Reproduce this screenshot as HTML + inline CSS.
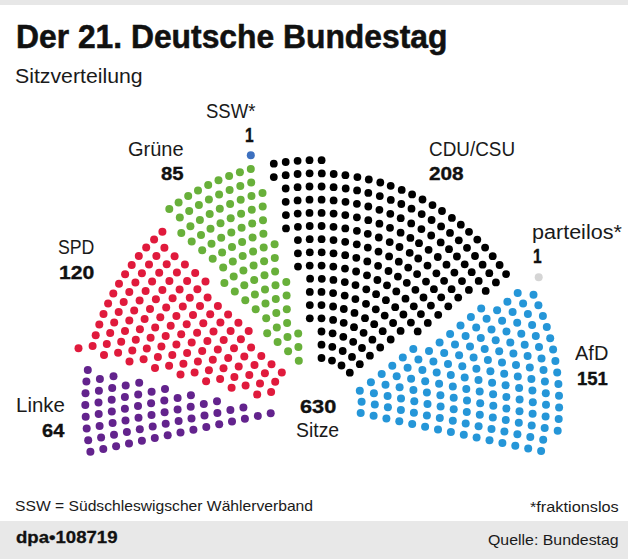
<!DOCTYPE html>
<html lang="de"><head><meta charset="utf-8">
<title>Der 21. Deutsche Bundestag</title>
<style>
html,body{margin:0;padding:0;background:#fff;}
body{width:628px;height:559px;position:relative;overflow:hidden;font-family:"Liberation Sans",Arial,sans-serif;color:#1a1a1a;}
.t{position:absolute;white-space:nowrap;line-height:1;transform-origin:0 0;}
.b{font-weight:bold;color:#111;}
#topbar{position:absolute;left:0;top:0;width:628px;height:5.3px;background:#e7e7e7;}
#footbar{position:absolute;left:0;top:521px;width:628px;height:38px;background:#e8e8e8;}
svg{position:absolute;left:0;top:0;}
</style></head><body>
<div id="topbar"></div>
<svg width="628" height="559" viewBox="0 0 628 559">
<g fill="#63238d"><circle cx="270.7" cy="413.2" r="4.0"/><circle cx="257.8" cy="416.0" r="4.0"/><circle cx="244.9" cy="418.8" r="4.0"/><circle cx="243.4" cy="407.4" r="4.0"/><circle cx="232.0" cy="421.5" r="4.0"/><circle cx="230.4" cy="410.1" r="4.0"/><circle cx="219.2" cy="424.3" r="4.0"/><circle cx="217.4" cy="412.9" r="4.0"/><circle cx="217.0" cy="401.3" r="4.0"/><circle cx="206.3" cy="427.0" r="4.0"/><circle cx="204.5" cy="415.6" r="4.0"/><circle cx="203.8" cy="404.1" r="4.0"/><circle cx="193.4" cy="429.8" r="4.0"/><circle cx="191.5" cy="418.4" r="4.0"/><circle cx="190.7" cy="406.8" r="4.0"/><circle cx="190.9" cy="395.2" r="4.0"/><circle cx="180.5" cy="432.5" r="4.0"/><circle cx="178.6" cy="421.1" r="4.0"/><circle cx="177.6" cy="409.5" r="4.0"/><circle cx="177.6" cy="397.9" r="4.0"/><circle cx="167.7" cy="435.3" r="4.0"/><circle cx="165.7" cy="423.8" r="4.0"/><circle cx="164.6" cy="412.3" r="4.0"/><circle cx="164.3" cy="400.6" r="4.0"/><circle cx="165.0" cy="389.0" r="4.0"/><circle cx="154.8" cy="438.0" r="4.0"/><circle cx="152.7" cy="426.6" r="4.0"/><circle cx="151.5" cy="415.0" r="4.0"/><circle cx="151.1" cy="403.3" r="4.0"/><circle cx="151.6" cy="391.7" r="4.0"/><circle cx="141.9" cy="440.8" r="4.0"/><circle cx="139.8" cy="429.3" r="4.0"/><circle cx="138.5" cy="417.7" r="4.0"/><circle cx="138.0" cy="406.0" r="4.0"/><circle cx="138.2" cy="394.4" r="4.0"/><circle cx="139.2" cy="382.7" r="4.0"/><circle cx="129.0" cy="443.5" r="4.0"/><circle cx="126.9" cy="432.0" r="4.0"/><circle cx="125.5" cy="420.4" r="4.0"/><circle cx="124.9" cy="408.7" r="4.0"/><circle cx="124.9" cy="397.0" r="4.0"/><circle cx="125.7" cy="385.4" r="4.0"/><circle cx="116.1" cy="446.3" r="4.0"/><circle cx="114.0" cy="434.8" r="4.0"/><circle cx="112.6" cy="423.1" r="4.0"/><circle cx="111.8" cy="411.4" r="4.0"/><circle cx="111.7" cy="399.7" r="4.0"/><circle cx="112.2" cy="388.0" r="4.0"/><circle cx="113.5" cy="376.3" r="4.0"/><circle cx="103.3" cy="449.1" r="4.0"/><circle cx="101.1" cy="437.5" r="4.0"/><circle cx="99.6" cy="425.9" r="4.0"/><circle cx="98.7" cy="414.1" r="4.0"/><circle cx="98.5" cy="402.4" r="4.0"/><circle cx="98.9" cy="390.7" r="4.0"/><circle cx="99.9" cy="378.9" r="4.0"/><circle cx="90.4" cy="451.8" r="4.0"/><circle cx="88.2" cy="440.2" r="4.0"/><circle cx="86.7" cy="428.6" r="4.0"/><circle cx="85.7" cy="416.8" r="4.0"/><circle cx="85.3" cy="405.1" r="4.0"/><circle cx="85.5" cy="393.3" r="4.0"/><circle cx="86.4" cy="381.6" r="4.0"/><circle cx="87.8" cy="369.9" r="4.0"/></g>
<g fill="#e01a3c"><circle cx="271.1" cy="392.1" r="4.0"/><circle cx="275.2" cy="381.7" r="4.0"/><circle cx="281.8" cy="372.5" r="4.0"/><circle cx="257.2" cy="394.4" r="4.0"/><circle cx="260.0" cy="383.5" r="4.0"/><circle cx="264.9" cy="373.3" r="4.0"/><circle cx="271.5" cy="364.2" r="4.0"/><circle cx="245.6" cy="385.6" r="4.0"/><circle cx="249.3" cy="374.9" r="4.0"/><circle cx="254.5" cy="364.9" r="4.0"/><circle cx="261.3" cy="355.9" r="4.0"/><circle cx="231.6" cy="387.8" r="4.0"/><circle cx="234.4" cy="376.9" r="4.0"/><circle cx="238.7" cy="366.4" r="4.0"/><circle cx="244.3" cy="356.6" r="4.0"/><circle cx="251.1" cy="347.6" r="4.0"/><circle cx="220.1" cy="379.0" r="4.0"/><circle cx="223.5" cy="368.2" r="4.0"/><circle cx="228.2" cy="357.9" r="4.0"/><circle cx="234.0" cy="348.2" r="4.0"/><circle cx="240.9" cy="339.3" r="4.0"/><circle cx="248.7" cy="331.1" r="4.0"/><circle cx="206.1" cy="381.2" r="4.0"/><circle cx="208.9" cy="370.3" r="4.0"/><circle cx="212.8" cy="359.7" r="4.0"/><circle cx="217.8" cy="349.5" r="4.0"/><circle cx="223.7" cy="339.9" r="4.0"/><circle cx="230.6" cy="330.9" r="4.0"/><circle cx="238.4" cy="322.7" r="4.0"/><circle cx="194.6" cy="372.4" r="4.0"/><circle cx="197.9" cy="361.6" r="4.0"/><circle cx="202.2" cy="351.1" r="4.0"/><circle cx="207.4" cy="341.1" r="4.0"/><circle cx="213.5" cy="331.6" r="4.0"/><circle cx="220.4" cy="322.6" r="4.0"/><circle cx="228.1" cy="314.4" r="4.0"/><circle cx="180.5" cy="374.6" r="4.0"/><circle cx="183.4" cy="363.7" r="4.0"/><circle cx="187.1" cy="353.0" r="4.0"/><circle cx="191.7" cy="342.6" r="4.0"/><circle cx="197.1" cy="332.7" r="4.0"/><circle cx="203.3" cy="323.2" r="4.0"/><circle cx="210.2" cy="314.3" r="4.0"/><circle cx="217.9" cy="306.0" r="4.0"/><circle cx="169.1" cy="365.8" r="4.0"/><circle cx="172.3" cy="355.0" r="4.0"/><circle cx="176.4" cy="344.4" r="4.0"/><circle cx="181.2" cy="334.2" r="4.0"/><circle cx="186.7" cy="324.3" r="4.0"/><circle cx="193.0" cy="314.9" r="4.0"/><circle cx="200.0" cy="306.0" r="4.0"/><circle cx="207.6" cy="297.6" r="4.0"/><circle cx="155.0" cy="368.1" r="4.0"/><circle cx="157.9" cy="357.1" r="4.0"/><circle cx="161.4" cy="346.4" r="4.0"/><circle cx="165.7" cy="335.9" r="4.0"/><circle cx="170.7" cy="325.7" r="4.0"/><circle cx="176.4" cy="316.0" r="4.0"/><circle cx="182.8" cy="306.6" r="4.0"/><circle cx="189.8" cy="297.7" r="4.0"/><circle cx="197.4" cy="289.3" r="4.0"/><circle cx="205.5" cy="281.4" r="4.0"/><circle cx="143.6" cy="359.3" r="4.0"/><circle cx="146.8" cy="348.4" r="4.0"/><circle cx="150.6" cy="337.8" r="4.0"/><circle cx="155.2" cy="327.4" r="4.0"/><circle cx="160.3" cy="317.3" r="4.0"/><circle cx="166.2" cy="307.6" r="4.0"/><circle cx="172.6" cy="298.3" r="4.0"/><circle cx="179.6" cy="289.4" r="4.0"/><circle cx="187.1" cy="280.9" r="4.0"/><circle cx="195.2" cy="273.0" r="4.0"/><circle cx="129.5" cy="361.5" r="4.0"/><circle cx="132.3" cy="350.5" r="4.0"/><circle cx="135.8" cy="339.7" r="4.0"/><circle cx="139.9" cy="329.2" r="4.0"/><circle cx="144.6" cy="318.9" r="4.0"/><circle cx="150.0" cy="308.9" r="4.0"/><circle cx="155.9" cy="299.2" r="4.0"/><circle cx="162.4" cy="289.9" r="4.0"/><circle cx="169.4" cy="281.0" r="4.0"/><circle cx="176.9" cy="272.6" r="4.0"/><circle cx="184.9" cy="264.6" r="4.0"/><circle cx="118.1" cy="352.7" r="4.0"/><circle cx="121.2" cy="341.8" r="4.0"/><circle cx="125.0" cy="331.1" r="4.0"/><circle cx="129.3" cy="320.6" r="4.0"/><circle cx="134.2" cy="310.4" r="4.0"/><circle cx="139.6" cy="300.5" r="4.0"/><circle cx="145.6" cy="290.9" r="4.0"/><circle cx="152.1" cy="281.6" r="4.0"/><circle cx="159.2" cy="272.7" r="4.0"/><circle cx="166.7" cy="264.2" r="4.0"/><circle cx="174.6" cy="256.2" r="4.0"/><circle cx="104.0" cy="354.9" r="4.0"/><circle cx="106.8" cy="343.9" r="4.0"/><circle cx="110.2" cy="333.1" r="4.0"/><circle cx="114.2" cy="322.5" r="4.0"/><circle cx="118.7" cy="312.1" r="4.0"/><circle cx="123.7" cy="302.0" r="4.0"/><circle cx="129.3" cy="292.1" r="4.0"/><circle cx="135.4" cy="282.5" r="4.0"/><circle cx="141.9" cy="273.3" r="4.0"/><circle cx="149.0" cy="264.4" r="4.0"/><circle cx="156.4" cy="255.9" r="4.0"/><circle cx="164.4" cy="247.8" r="4.0"/><circle cx="92.6" cy="346.1" r="4.0"/><circle cx="95.7" cy="335.2" r="4.0"/><circle cx="99.3" cy="324.5" r="4.0"/><circle cx="103.5" cy="313.9" r="4.0"/><circle cx="108.1" cy="303.6" r="4.0"/><circle cx="113.3" cy="293.5" r="4.0"/><circle cx="119.0" cy="283.7" r="4.0"/><circle cx="125.1" cy="274.2" r="4.0"/><circle cx="131.7" cy="265.0" r="4.0"/><circle cx="138.8" cy="256.1" r="4.0"/><circle cx="146.2" cy="247.6" r="4.0"/><circle cx="154.1" cy="239.4" r="4.0"/><circle cx="162.4" cy="231.7" r="4.0"/><circle cx="78.5" cy="348.3" r="4.0"/></g>
<g fill="#68b03a"><circle cx="298.8" cy="360.8" r="4.0"/><circle cx="298.4" cy="347.0" r="4.0"/><circle cx="288.1" cy="351.3" r="4.0"/><circle cx="298.2" cy="333.4" r="4.0"/><circle cx="287.5" cy="337.0" r="4.0"/><circle cx="277.6" cy="342.1" r="4.0"/><circle cx="287.1" cy="323.0" r="4.0"/><circle cx="276.8" cy="327.4" r="4.0"/><circle cx="267.2" cy="333.2" r="4.0"/><circle cx="286.8" cy="309.2" r="4.0"/><circle cx="276.3" cy="313.1" r="4.0"/><circle cx="266.2" cy="318.2" r="4.0"/><circle cx="286.6" cy="295.6" r="4.0"/><circle cx="275.8" cy="299.1" r="4.0"/><circle cx="265.5" cy="303.6" r="4.0"/><circle cx="255.7" cy="309.2" r="4.0"/><circle cx="286.3" cy="282.1" r="4.0"/><circle cx="275.5" cy="285.2" r="4.0"/><circle cx="265.0" cy="289.4" r="4.0"/><circle cx="254.9" cy="294.4" r="4.0"/><circle cx="245.3" cy="300.3" r="4.0"/><circle cx="275.1" cy="271.5" r="4.0"/><circle cx="264.5" cy="275.3" r="4.0"/><circle cx="254.2" cy="279.9" r="4.0"/><circle cx="244.3" cy="285.3" r="4.0"/><circle cx="234.8" cy="291.5" r="4.0"/><circle cx="274.8" cy="257.9" r="4.0"/><circle cx="264.1" cy="261.3" r="4.0"/><circle cx="253.6" cy="265.6" r="4.0"/><circle cx="243.4" cy="270.6" r="4.0"/><circle cx="233.7" cy="276.4" r="4.0"/><circle cx="224.4" cy="282.9" r="4.0"/><circle cx="274.6" cy="244.3" r="4.0"/><circle cx="263.7" cy="247.5" r="4.0"/><circle cx="253.1" cy="251.5" r="4.0"/><circle cx="242.7" cy="256.1" r="4.0"/><circle cx="232.8" cy="261.5" r="4.0"/><circle cx="223.2" cy="267.6" r="4.0"/><circle cx="263.4" cy="233.8" r="4.0"/><circle cx="252.6" cy="237.5" r="4.0"/><circle cx="242.1" cy="241.9" r="4.0"/><circle cx="232.0" cy="246.9" r="4.0"/><circle cx="222.1" cy="252.5" r="4.0"/><circle cx="212.7" cy="258.8" r="4.0"/><circle cx="263.0" cy="220.2" r="4.0"/><circle cx="252.2" cy="223.6" r="4.0"/><circle cx="241.6" cy="227.7" r="4.0"/><circle cx="231.3" cy="232.4" r="4.0"/><circle cx="221.2" cy="237.8" r="4.0"/><circle cx="211.5" cy="243.7" r="4.0"/><circle cx="202.2" cy="250.2" r="4.0"/><circle cx="262.7" cy="206.6" r="4.0"/><circle cx="251.8" cy="209.8" r="4.0"/><circle cx="241.1" cy="213.7" r="4.0"/><circle cx="230.7" cy="218.2" r="4.0"/><circle cx="220.5" cy="223.2" r="4.0"/><circle cx="210.5" cy="228.8" r="4.0"/><circle cx="201.0" cy="234.9" r="4.0"/><circle cx="191.7" cy="241.6" r="4.0"/><circle cx="262.5" cy="193.1" r="4.0"/><circle cx="251.5" cy="196.1" r="4.0"/><circle cx="240.7" cy="199.8" r="4.0"/><circle cx="230.1" cy="204.0" r="4.0"/><circle cx="219.8" cy="208.8" r="4.0"/><circle cx="209.7" cy="214.1" r="4.0"/><circle cx="199.9" cy="219.9" r="4.0"/><circle cx="190.4" cy="226.2" r="4.0"/><circle cx="181.3" cy="233.0" r="4.0"/><circle cx="251.2" cy="182.5" r="4.0"/><circle cx="240.3" cy="185.9" r="4.0"/><circle cx="229.6" cy="189.9" r="4.0"/><circle cx="219.1" cy="194.5" r="4.0"/><circle cx="208.9" cy="199.5" r="4.0"/><circle cx="198.9" cy="205.0" r="4.0"/><circle cx="189.2" cy="211.1" r="4.0"/><circle cx="179.8" cy="217.6" r="4.0"/><circle cx="250.8" cy="168.9" r="4.0"/><circle cx="239.9" cy="172.2" r="4.0"/><circle cx="229.1" cy="176.0" r="4.0"/><circle cx="218.5" cy="180.3" r="4.0"/><circle cx="208.2" cy="185.1" r="4.0"/><circle cx="198.0" cy="190.4" r="4.0"/><circle cx="188.2" cy="196.1" r="4.0"/><circle cx="178.6" cy="202.4" r="4.0"/><circle cx="169.3" cy="209.0" r="4.0"/></g>
<g fill="#2596d8"><circle cx="360.7" cy="413.1" r="4.0"/><circle cx="361.6" cy="401.8" r="4.0"/><circle cx="359.8" cy="390.7" r="4.0"/><circle cx="373.6" cy="415.8" r="4.0"/><circle cx="374.8" cy="404.5" r="4.0"/><circle cx="373.9" cy="393.2" r="4.0"/><circle cx="370.9" cy="382.3" r="4.0"/><circle cx="386.4" cy="418.5" r="4.0"/><circle cx="387.9" cy="407.3" r="4.0"/><circle cx="387.6" cy="395.9" r="4.0"/><circle cx="385.5" cy="384.7" r="4.0"/><circle cx="381.7" cy="374.0" r="4.0"/><circle cx="399.3" cy="421.3" r="4.0"/><circle cx="400.9" cy="410.0" r="4.0"/><circle cx="401.0" cy="398.6" r="4.0"/><circle cx="399.6" cy="387.2" r="4.0"/><circle cx="396.7" cy="376.2" r="4.0"/><circle cx="392.3" cy="365.7" r="4.0"/><circle cx="412.2" cy="424.0" r="4.0"/><circle cx="413.9" cy="412.7" r="4.0"/><circle cx="414.3" cy="401.2" r="4.0"/><circle cx="413.4" cy="389.9" r="4.0"/><circle cx="411.1" cy="378.7" r="4.0"/><circle cx="407.6" cy="367.8" r="4.0"/><circle cx="402.8" cy="357.4" r="4.0"/><circle cx="425.1" cy="426.7" r="4.0"/><circle cx="426.9" cy="415.4" r="4.0"/><circle cx="427.5" cy="403.9" r="4.0"/><circle cx="426.9" cy="392.5" r="4.0"/><circle cx="425.2" cy="381.2" r="4.0"/><circle cx="422.4" cy="370.1" r="4.0"/><circle cx="418.4" cy="359.4" r="4.0"/><circle cx="413.3" cy="349.1" r="4.0"/><circle cx="438.0" cy="429.4" r="4.0"/><circle cx="439.8" cy="418.1" r="4.0"/><circle cx="440.6" cy="406.6" r="4.0"/><circle cx="440.4" cy="395.2" r="4.0"/><circle cx="439.1" cy="383.8" r="4.0"/><circle cx="436.7" cy="372.5" r="4.0"/><circle cx="433.4" cy="361.6" r="4.0"/><circle cx="429.0" cy="350.9" r="4.0"/><circle cx="450.9" cy="432.1" r="4.0"/><circle cx="452.8" cy="420.8" r="4.0"/><circle cx="453.7" cy="409.3" r="4.0"/><circle cx="453.7" cy="397.8" r="4.0"/><circle cx="452.8" cy="386.4" r="4.0"/><circle cx="450.8" cy="375.0" r="4.0"/><circle cx="448.0" cy="363.9" r="4.0"/><circle cx="444.2" cy="353.0" r="4.0"/><circle cx="439.6" cy="342.5" r="4.0"/><circle cx="463.8" cy="434.8" r="4.0"/><circle cx="465.7" cy="423.5" r="4.0"/><circle cx="466.8" cy="412.0" r="4.0"/><circle cx="467.0" cy="400.5" r="4.0"/><circle cx="466.3" cy="389.0" r="4.0"/><circle cx="464.7" cy="377.6" r="4.0"/><circle cx="462.3" cy="366.3" r="4.0"/><circle cx="459.1" cy="355.3" r="4.0"/><circle cx="455.0" cy="344.5" r="4.0"/><circle cx="450.1" cy="334.1" r="4.0"/><circle cx="476.6" cy="437.5" r="4.0"/><circle cx="478.6" cy="426.2" r="4.0"/><circle cx="479.8" cy="414.7" r="4.0"/><circle cx="480.2" cy="403.2" r="4.0"/><circle cx="479.7" cy="391.6" r="4.0"/><circle cx="478.5" cy="380.1" r="4.0"/><circle cx="476.4" cy="368.8" r="4.0"/><circle cx="473.6" cy="357.6" r="4.0"/><circle cx="470.0" cy="346.6" r="4.0"/><circle cx="465.6" cy="336.0" r="4.0"/><circle cx="460.5" cy="325.6" r="4.0"/><circle cx="489.5" cy="440.3" r="4.0"/><circle cx="491.5" cy="428.9" r="4.0"/><circle cx="492.8" cy="417.4" r="4.0"/><circle cx="493.3" cy="405.8" r="4.0"/><circle cx="493.1" cy="394.3" r="4.0"/><circle cx="492.1" cy="382.7" r="4.0"/><circle cx="490.4" cy="371.3" r="4.0"/><circle cx="487.9" cy="360.0" r="4.0"/><circle cx="484.7" cy="348.9" r="4.0"/><circle cx="480.8" cy="338.0" r="4.0"/><circle cx="476.2" cy="327.4" r="4.0"/><circle cx="470.9" cy="317.1" r="4.0"/><circle cx="502.4" cy="443.0" r="4.0"/><circle cx="504.4" cy="431.6" r="4.0"/><circle cx="505.8" cy="420.1" r="4.0"/><circle cx="506.4" cy="408.5" r="4.0"/><circle cx="506.4" cy="396.9" r="4.0"/><circle cx="505.6" cy="385.3" r="4.0"/><circle cx="504.2" cy="373.8" r="4.0"/><circle cx="502.0" cy="362.5" r="4.0"/><circle cx="499.2" cy="351.2" r="4.0"/><circle cx="495.7" cy="340.2" r="4.0"/><circle cx="491.5" cy="329.4" r="4.0"/><circle cx="486.6" cy="318.8" r="4.0"/><circle cx="481.2" cy="308.6" r="4.0"/><circle cx="515.3" cy="445.7" r="4.0"/><circle cx="517.4" cy="434.3" r="4.0"/><circle cx="518.8" cy="422.7" r="4.0"/><circle cx="519.5" cy="411.2" r="4.0"/><circle cx="519.6" cy="399.5" r="4.0"/><circle cx="519.1" cy="387.9" r="4.0"/><circle cx="517.8" cy="376.4" r="4.0"/><circle cx="516.0" cy="364.9" r="4.0"/><circle cx="513.4" cy="353.6" r="4.0"/><circle cx="510.3" cy="342.4" r="4.0"/><circle cx="506.5" cy="331.5" r="4.0"/><circle cx="502.1" cy="320.7" r="4.0"/><circle cx="497.1" cy="310.3" r="4.0"/><circle cx="528.2" cy="448.4" r="4.0"/><circle cx="530.3" cy="437.0" r="4.0"/><circle cx="531.7" cy="425.4" r="4.0"/><circle cx="532.6" cy="413.8" r="4.0"/><circle cx="532.8" cy="402.2" r="4.0"/><circle cx="532.4" cy="390.6" r="4.0"/><circle cx="531.4" cy="379.0" r="4.0"/><circle cx="529.8" cy="367.5" r="4.0"/><circle cx="527.6" cy="356.0" r="4.0"/><circle cx="524.7" cy="344.8" r="4.0"/><circle cx="521.3" cy="333.7" r="4.0"/><circle cx="517.2" cy="322.8" r="4.0"/><circle cx="512.6" cy="312.1" r="4.0"/><circle cx="507.4" cy="301.7" r="4.0"/><circle cx="541.1" cy="451.1" r="4.0"/><circle cx="543.2" cy="439.7" r="4.0"/><circle cx="544.7" cy="428.1" r="4.0"/><circle cx="545.6" cy="416.5" r="4.0"/><circle cx="546.0" cy="404.8" r="4.0"/><circle cx="545.8" cy="393.2" r="4.0"/><circle cx="544.9" cy="381.6" r="4.0"/><circle cx="543.5" cy="370.0" r="4.0"/><circle cx="541.5" cy="358.5" r="4.0"/><circle cx="539.0" cy="347.1" r="4.0"/><circle cx="535.8" cy="335.9" r="4.0"/><circle cx="532.1" cy="324.9" r="4.0"/><circle cx="527.9" cy="314.0" r="4.0"/><circle cx="523.1" cy="303.4" r="4.0"/><circle cx="517.7" cy="293.0" r="4.0"/><circle cx="557.7" cy="430.8" r="4.0"/><circle cx="558.7" cy="419.1" r="4.0"/><circle cx="559.1" cy="407.5" r="4.0"/><circle cx="559.0" cy="395.8" r="4.0"/><circle cx="558.4" cy="384.1" r="4.0"/><circle cx="557.2" cy="372.5" r="4.0"/><circle cx="555.4" cy="361.0" r="4.0"/><circle cx="553.1" cy="349.5" r="4.0"/><circle cx="550.2" cy="338.2" r="4.0"/><circle cx="546.8" cy="327.1" r="4.0"/><circle cx="542.9" cy="316.1" r="4.0"/><circle cx="538.4" cy="305.3" r="4.0"/><circle cx="533.5" cy="294.7" r="4.0"/></g>
<g fill="#000000"><circle cx="321.5" cy="358.0" r="3.9"/><circle cx="332.0" cy="360.6" r="3.9"/><circle cx="341.5" cy="365.5" r="3.9"/><circle cx="349.8" cy="372.7" r="3.9"/><circle cx="321.5" cy="344.7" r="3.9"/><circle cx="332.3" cy="346.8" r="3.9"/><circle cx="342.7" cy="351.0" r="3.9"/><circle cx="352.0" cy="356.9" r="3.9"/><circle cx="359.8" cy="364.2" r="3.9"/><circle cx="321.5" cy="331.5" r="3.9"/><circle cx="332.6" cy="333.3" r="3.9"/><circle cx="343.3" cy="336.8" r="3.9"/><circle cx="353.2" cy="341.8" r="3.9"/><circle cx="362.0" cy="348.0" r="3.9"/><circle cx="369.9" cy="355.7" r="3.9"/><circle cx="309.8" cy="318.3" r="3.9"/><circle cx="321.5" cy="318.3" r="3.9"/><circle cx="333.1" cy="319.9" r="3.9"/><circle cx="343.7" cy="322.8" r="3.9"/><circle cx="354.0" cy="327.2" r="3.9"/><circle cx="363.6" cy="332.8" r="3.9"/><circle cx="372.4" cy="339.7" r="3.9"/><circle cx="380.2" cy="347.5" r="3.9"/><circle cx="309.8" cy="305.1" r="3.9"/><circle cx="321.5" cy="305.1" r="3.9"/><circle cx="333.1" cy="306.5" r="3.9"/><circle cx="343.8" cy="309.0" r="3.9"/><circle cx="354.5" cy="312.9" r="3.9"/><circle cx="365.0" cy="318.2" r="3.9"/><circle cx="374.2" cy="324.2" r="3.9"/><circle cx="382.7" cy="331.2" r="3.9"/><circle cx="390.7" cy="339.5" r="3.9"/><circle cx="309.8" cy="291.9" r="3.9"/><circle cx="321.5" cy="291.9" r="3.9"/><circle cx="333.1" cy="293.1" r="3.9"/><circle cx="344.7" cy="295.6" r="3.9"/><circle cx="355.4" cy="299.1" r="3.9"/><circle cx="366.0" cy="303.8" r="3.9"/><circle cx="375.8" cy="309.3" r="3.9"/><circle cx="384.7" cy="315.6" r="3.9"/><circle cx="393.1" cy="323.0" r="3.9"/><circle cx="400.6" cy="330.9" r="3.9"/><circle cx="310.1" cy="278.7" r="3.9"/><circle cx="321.8" cy="278.8" r="3.9"/><circle cx="333.4" cy="279.9" r="3.9"/><circle cx="344.8" cy="282.1" r="3.9"/><circle cx="355.5" cy="285.1" r="3.9"/><circle cx="366.3" cy="289.3" r="3.9"/><circle cx="376.1" cy="294.2" r="3.9"/><circle cx="385.9" cy="300.2" r="3.9"/><circle cx="395.2" cy="307.2" r="3.9"/><circle cx="403.4" cy="314.5" r="3.9"/><circle cx="410.9" cy="322.6" r="3.9"/><circle cx="417.7" cy="331.4" r="3.9"/><circle cx="298.0" cy="266.6" r="3.9"/><circle cx="309.7" cy="265.6" r="3.9"/><circle cx="321.6" cy="265.6" r="3.9"/><circle cx="333.3" cy="266.6" r="3.9"/><circle cx="345.0" cy="268.6" r="3.9"/><circle cx="356.1" cy="271.5" r="3.9"/><circle cx="367.0" cy="275.3" r="3.9"/><circle cx="377.4" cy="280.0" r="3.9"/><circle cx="387.0" cy="285.3" r="3.9"/><circle cx="396.3" cy="291.4" r="3.9"/><circle cx="405.5" cy="298.7" r="3.9"/><circle cx="413.8" cy="306.3" r="3.9"/><circle cx="420.9" cy="314.1" r="3.9"/><circle cx="427.8" cy="322.9" r="3.9"/><circle cx="297.9" cy="253.3" r="3.9"/><circle cx="309.8" cy="252.4" r="3.9"/><circle cx="321.7" cy="252.4" r="3.9"/><circle cx="333.5" cy="253.3" r="3.9"/><circle cx="345.2" cy="255.2" r="3.9"/><circle cx="356.3" cy="257.8" r="3.9"/><circle cx="367.3" cy="261.4" r="3.9"/><circle cx="378.1" cy="265.8" r="3.9"/><circle cx="388.5" cy="271.0" r="3.9"/><circle cx="397.9" cy="276.6" r="3.9"/><circle cx="406.8" cy="282.8" r="3.9"/><circle cx="415.4" cy="289.8" r="3.9"/><circle cx="423.5" cy="297.5" r="3.9"/><circle cx="430.9" cy="305.6" r="3.9"/><circle cx="438.2" cy="314.8" r="3.9"/><circle cx="297.9" cy="240.1" r="3.9"/><circle cx="309.7" cy="239.2" r="3.9"/><circle cx="321.6" cy="239.2" r="3.9"/><circle cx="333.5" cy="240.1" r="3.9"/><circle cx="345.2" cy="241.8" r="3.9"/><circle cx="356.8" cy="244.3" r="3.9"/><circle cx="367.8" cy="247.6" r="3.9"/><circle cx="378.5" cy="251.6" r="3.9"/><circle cx="389.1" cy="256.4" r="3.9"/><circle cx="398.8" cy="261.7" r="3.9"/><circle cx="408.2" cy="267.6" r="3.9"/><circle cx="417.1" cy="274.1" r="3.9"/><circle cx="426.0" cy="281.6" r="3.9"/><circle cx="433.9" cy="289.2" r="3.9"/><circle cx="441.2" cy="297.3" r="3.9"/><circle cx="448.3" cy="306.3" r="3.9"/><circle cx="286.0" cy="228.4" r="3.9"/><circle cx="297.9" cy="226.8" r="3.9"/><circle cx="309.7" cy="226.0" r="3.9"/><circle cx="321.6" cy="226.0" r="3.9"/><circle cx="333.5" cy="226.8" r="3.9"/><circle cx="345.3" cy="228.4" r="3.9"/><circle cx="356.9" cy="230.8" r="3.9"/><circle cx="367.8" cy="233.8" r="3.9"/><circle cx="378.8" cy="237.5" r="3.9"/><circle cx="389.7" cy="242.1" r="3.9"/><circle cx="399.5" cy="247.0" r="3.9"/><circle cx="409.7" cy="252.9" r="3.9"/><circle cx="418.2" cy="258.5" r="3.9"/><circle cx="427.5" cy="265.6" r="3.9"/><circle cx="436.4" cy="273.3" r="3.9"/><circle cx="444.1" cy="280.8" r="3.9"/><circle cx="451.6" cy="289.2" r="3.9"/><circle cx="458.2" cy="297.6" r="3.9"/><circle cx="285.9" cy="215.1" r="3.9"/><circle cx="297.7" cy="213.6" r="3.9"/><circle cx="309.5" cy="212.9" r="3.9"/><circle cx="321.6" cy="212.9" r="3.9"/><circle cx="333.6" cy="213.6" r="3.9"/><circle cx="345.3" cy="215.1" r="3.9"/><circle cx="356.9" cy="217.3" r="3.9"/><circle cx="368.3" cy="220.2" r="3.9"/><circle cx="379.4" cy="223.7" r="3.9"/><circle cx="390.0" cy="227.8" r="3.9"/><circle cx="400.6" cy="232.7" r="3.9"/><circle cx="410.4" cy="237.9" r="3.9"/><circle cx="419.0" cy="243.2" r="3.9"/><circle cx="428.6" cy="249.8" r="3.9"/><circle cx="437.8" cy="257.0" r="3.9"/><circle cx="446.5" cy="264.7" r="3.9"/><circle cx="454.4" cy="272.6" r="3.9"/><circle cx="462.0" cy="281.1" r="3.9"/><circle cx="468.9" cy="289.9" r="3.9"/><circle cx="285.7" cy="201.8" r="3.9"/><circle cx="297.6" cy="200.4" r="3.9"/><circle cx="309.5" cy="199.7" r="3.9"/><circle cx="321.6" cy="199.7" r="3.9"/><circle cx="333.6" cy="200.4" r="3.9"/><circle cx="345.5" cy="201.8" r="3.9"/><circle cx="356.9" cy="203.8" r="3.9"/><circle cx="368.3" cy="206.5" r="3.9"/><circle cx="379.4" cy="209.8" r="3.9"/><circle cx="390.3" cy="213.8" r="3.9"/><circle cx="400.7" cy="218.2" r="3.9"/><circle cx="411.2" cy="223.4" r="3.9"/><circle cx="421.4" cy="229.1" r="3.9"/><circle cx="431.2" cy="235.5" r="3.9"/><circle cx="440.7" cy="242.4" r="3.9"/><circle cx="449.0" cy="249.2" r="3.9"/><circle cx="456.9" cy="256.5" r="3.9"/><circle cx="464.7" cy="264.3" r="3.9"/><circle cx="471.7" cy="272.2" r="3.9"/><circle cx="478.7" cy="280.9" r="3.9"/><circle cx="485.7" cy="290.9" r="3.9"/><circle cx="285.7" cy="188.5" r="3.9"/><circle cx="297.6" cy="187.2" r="3.9"/><circle cx="309.5" cy="186.5" r="3.9"/><circle cx="321.6" cy="186.5" r="3.9"/><circle cx="333.6" cy="187.2" r="3.9"/><circle cx="345.7" cy="188.5" r="3.9"/><circle cx="357.1" cy="190.4" r="3.9"/><circle cx="368.3" cy="192.9" r="3.9"/><circle cx="379.8" cy="196.1" r="3.9"/><circle cx="390.8" cy="199.9" r="3.9"/><circle cx="401.3" cy="204.0" r="3.9"/><circle cx="411.5" cy="208.7" r="3.9"/><circle cx="421.7" cy="214.1" r="3.9"/><circle cx="431.6" cy="220.0" r="3.9"/><circle cx="441.1" cy="226.4" r="3.9"/><circle cx="450.0" cy="232.9" r="3.9"/><circle cx="458.8" cy="240.3" r="3.9"/><circle cx="467.0" cy="247.8" r="3.9"/><circle cx="475.0" cy="256.0" r="3.9"/><circle cx="482.6" cy="264.7" r="3.9"/><circle cx="489.3" cy="273.2" r="3.9"/><circle cx="495.9" cy="282.4" r="3.9"/><circle cx="273.8" cy="177.1" r="3.9"/><circle cx="285.7" cy="175.2" r="3.9"/><circle cx="297.6" cy="174.0" r="3.9"/><circle cx="309.6" cy="173.3" r="3.9"/><circle cx="321.8" cy="173.4" r="3.9"/><circle cx="333.7" cy="174.0" r="3.9"/><circle cx="345.4" cy="175.2" r="3.9"/><circle cx="357.4" cy="177.1" r="3.9"/><circle cx="368.8" cy="179.5" r="3.9"/><circle cx="380.3" cy="182.5" r="3.9"/><circle cx="390.7" cy="185.8" r="3.9"/><circle cx="401.7" cy="189.9" r="3.9"/><circle cx="412.1" cy="194.4" r="3.9"/><circle cx="422.5" cy="199.5" r="3.9"/><circle cx="432.5" cy="205.1" r="3.9"/><circle cx="442.0" cy="211.0" r="3.9"/><circle cx="451.9" cy="217.9" r="3.9"/><circle cx="460.8" cy="224.7" r="3.9"/><circle cx="469.0" cy="231.8" r="3.9"/><circle cx="477.3" cy="239.6" r="3.9"/><circle cx="485.1" cy="247.6" r="3.9"/><circle cx="492.7" cy="256.2" r="3.9"/><circle cx="499.6" cy="265.0" r="3.9"/><circle cx="506.1" cy="274.1" r="3.9"/><circle cx="273.8" cy="163.7" r="3.9"/><circle cx="285.7" cy="162.0" r="3.9"/><circle cx="297.6" cy="160.8" r="3.9"/><circle cx="309.5" cy="160.2" r="3.9"/><circle cx="321.6" cy="160.2" r="3.9"/></g>
<g fill="#3d70bf"><circle cx="250.8" cy="155.3" r="4.0"/></g>
<g fill="#d5d5d5"><circle cx="538.7" cy="277.2" r="4.0"/></g>
</svg>
<div class="t b" id="title" style="left:15.80px;top:20.17px;font-size:33.00px;transform:scaleX(0.9640);-webkit-text-stroke:0.55px currentColor;">Der 21. Deutsche Bundestag</div>
<div class="t" id="sub" style="left:15.00px;top:66.25px;font-size:20.50px;transform:scaleX(1.0377);">Sitzverteilung</div>
<div class="t" id="l_ssw" style="left:206.00px;top:101.99px;font-size:19.50px;transform:scaleX(0.9492);">SSW*</div>
<div class="t b" id="n_ssw" style="left:245.05px;top:126.19px;font-size:19.50px;transform:scaleX(0.8000);-webkit-text-stroke:0.35px currentColor;">1</div>
<div class="t" id="l_gru" style="left:128.00px;top:139.69px;font-size:19.50px;transform:scaleX(1.0266);">Grüne</div>
<div class="t b" id="n_gru" style="left:160.50px;top:164.42px;font-size:19.00px;transform:scaleX(1.0680);-webkit-text-stroke:0.35px currentColor;">85</div>
<div class="t" id="l_spd" style="left:57.50px;top:238.39px;font-size:19.50px;transform:scaleX(0.9080);">SPD</div>
<div class="t b" id="n_spd" style="left:58.50px;top:263.02px;font-size:19.00px;transform:scaleX(1.1144);-webkit-text-stroke:0.35px currentColor;">120</div>
<div class="t" id="l_lin" style="left:16.00px;top:395.69px;font-size:19.50px;transform:scaleX(1.0490);">Linke</div>
<div class="t b" id="n_lin" style="left:41.50px;top:420.52px;font-size:19.00px;transform:scaleX(1.0552);-webkit-text-stroke:0.35px currentColor;">64</div>
<div class="t b" id="n_tot" style="left:299.50px;top:396.72px;font-size:19.00px;transform:scaleX(1.1425);-webkit-text-stroke:0.35px currentColor;">630</div>
<div class="t" id="l_tot" style="left:296.00px;top:420.99px;font-size:19.50px;transform:scaleX(0.9954);">Sitze</div>
<div class="t" id="l_cdu" style="left:429.00px;top:139.79px;font-size:19.50px;transform:scaleX(0.9682);">CDU/CSU</div>
<div class="t b" id="n_cdu" style="left:429.00px;top:164.32px;font-size:19.00px;transform:scaleX(1.0938);-webkit-text-stroke:0.35px currentColor;">208</div>
<div class="t" id="l_par" style="left:532.00px;top:222.59px;font-size:19.50px;transform:scaleX(1.1050);">parteilos*</div>
<div class="t b" id="n_par" style="left:533.30px;top:247.19px;font-size:19.50px;transform:scaleX(0.8000);-webkit-text-stroke:0.35px currentColor;">1</div>
<div class="t" id="l_afd" style="left:575.00px;top:344.19px;font-size:19.50px;transform:scaleX(1.0254);">AfD</div>
<div class="t b" id="n_afd" style="left:576.50px;top:369.02px;font-size:19.00px;transform:scaleX(0.9753);-webkit-text-stroke:0.35px currentColor;">151</div>
<div class="t" id="f_ssw" style="left:15.00px;top:499.43px;font-size:14.50px;transform:scaleX(1.0797);">SSW = Südschleswigscher Wählerverband</div>
<div class="t" id="f_fr" style="left:529.50px;top:499.63px;font-size:14.50px;transform:scaleX(1.1232);">*fraktionslos</div>
<div id="footbar"></div>
<div class="t b" id="f_dpa" style="left:15.50px;top:529.11px;font-size:17.00px;transform:scaleX(1.0925);-webkit-text-stroke:0.3px currentColor;">dpa•108719</div>
<div class="t" id="f_q" style="left:487.50px;top:531.50px;font-size:15.00px;transform:scaleX(1.0586);">Quelle: Bundestag</div>
</body></html>
